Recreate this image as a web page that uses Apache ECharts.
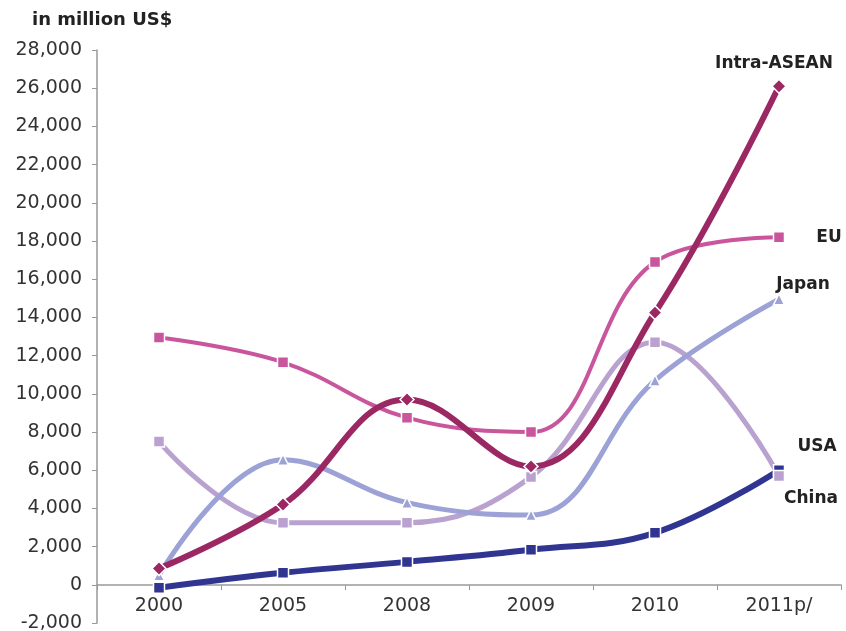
<!DOCTYPE html>
<html>
<head>
<meta charset="utf-8">
<script src="https://cdn.jsdelivr.net/npm/echarts@6/dist/echarts.min.js"></script>
<style>
  html, body { margin: 0; padding: 0; background: #fff; }
  #main { width: 846px; height: 631px; }
</style>
</head>
<body>
<div id="main"></div>
<script>
// categories and values (million US$)
var years = ['2000', '2005', '2008', '2009', '2010', '2011p/'];
var intraAsean = [850, 4200, 9700, 6200, 14250, 26100];
var eu = [12950, 11650, 8750, 8000, 16900, 18200];
var japan = [500, 6550, 4300, 3650, 10700, 14950];
var usa = [7500, 3250, 3250, 5650, 12700, 5700];
var china = [-150, 630, 1200, 1830, 2720, 6000];

var font = 'DejaVu Sans, Liberation Sans, sans-serif';

// the last point carries the series name as a text label
function withEndLabel(data, name, offset) {
  return data.map(function (v, i) {
    if (i < data.length - 1) return v;
    return {
      value: v,
      label: {
        show: true,
        formatter: name,
        position: 'inside',
        offset: offset,
        color: '#222',
        fontFamily: font,
        fontWeight: 'bold',
        fontSize: 17
      }
    };
  });
}

function makeSeries(name, data, color, symbol, width, offset) {
  return {
    name: name,
    type: 'line',
    smooth: 0.4,
    data: withEndLabel(data, name, offset),
    symbol: symbol,
    symbolSize: symbol == 'diamond' ? 14 : 11,
    lineStyle: { color: color, width: width },
    itemStyle: { color: color, borderColor: '#fff', borderWidth: 1.5 },
    emphasis: { disabled: true },
    z: 3
  };
}

var myChart = echarts.init(document.getElementById('main'));
var option = {
  backgroundColor: '#fff',
  animation: false,
  title: {
    text: 'in million US$',
    left: 27,
    top: 6,
    textStyle: { fontFamily: font, fontSize: 18, fontWeight: 'bold', color: '#222' }
  },
  grid: { left: 97, right: 5, top: 50, bottom: 8, containLabel: false, outerBoundsMode: 'none' },
  xAxis: {
    type: 'category',
    data: years,
    boundaryGap: true,
    // axis sits on the zero line: 2,000 units above the bottom of the grid
    offset: -38,
    axisLine: { onZero: false, lineStyle: { color: '#999', width: 1.5 } },
    axisTick: { show: true, length: 5, lineStyle: { color: '#999' } },
    axisLabel: { fontFamily: font, fontSize: 19, color: '#333', margin: 12 }
  },
  yAxis: {
    type: 'value',
    min: -2000,
    max: 28000,
    interval: 2000,
    axisLine: { show: true, lineStyle: { color: '#999', width: 1.5 } },
    axisTick: { show: true, length: 5, lineStyle: { color: '#999' } },
    splitLine: { show: false },
    axisLabel: {
      fontFamily: font,
      fontSize: 19,
      color: '#333',
      margin: 15,
      formatter: function (v) { return v.toLocaleString('en-US'); }
    }
  },
  series: [
    makeSeries('China', china, '#2f3590', 'rect', 6, [32, 28]),
    makeSeries('USA', usa, '#b9a2cf', 'rect', 5, [38, -29]),
    makeSeries('Japan', japan, '#9ca2d6', 'triangle', 5, [24, -15]),
    makeSeries('EU', eu, '#c9559c', 'rect', 4, [50, 0]),
    makeSeries('Intra-ASEAN', intraAsean, '#9b2862', 'diamond', 6, [-5, -23])
  ]
};
myChart.setOption(option);
</script>
</body>
</html>
